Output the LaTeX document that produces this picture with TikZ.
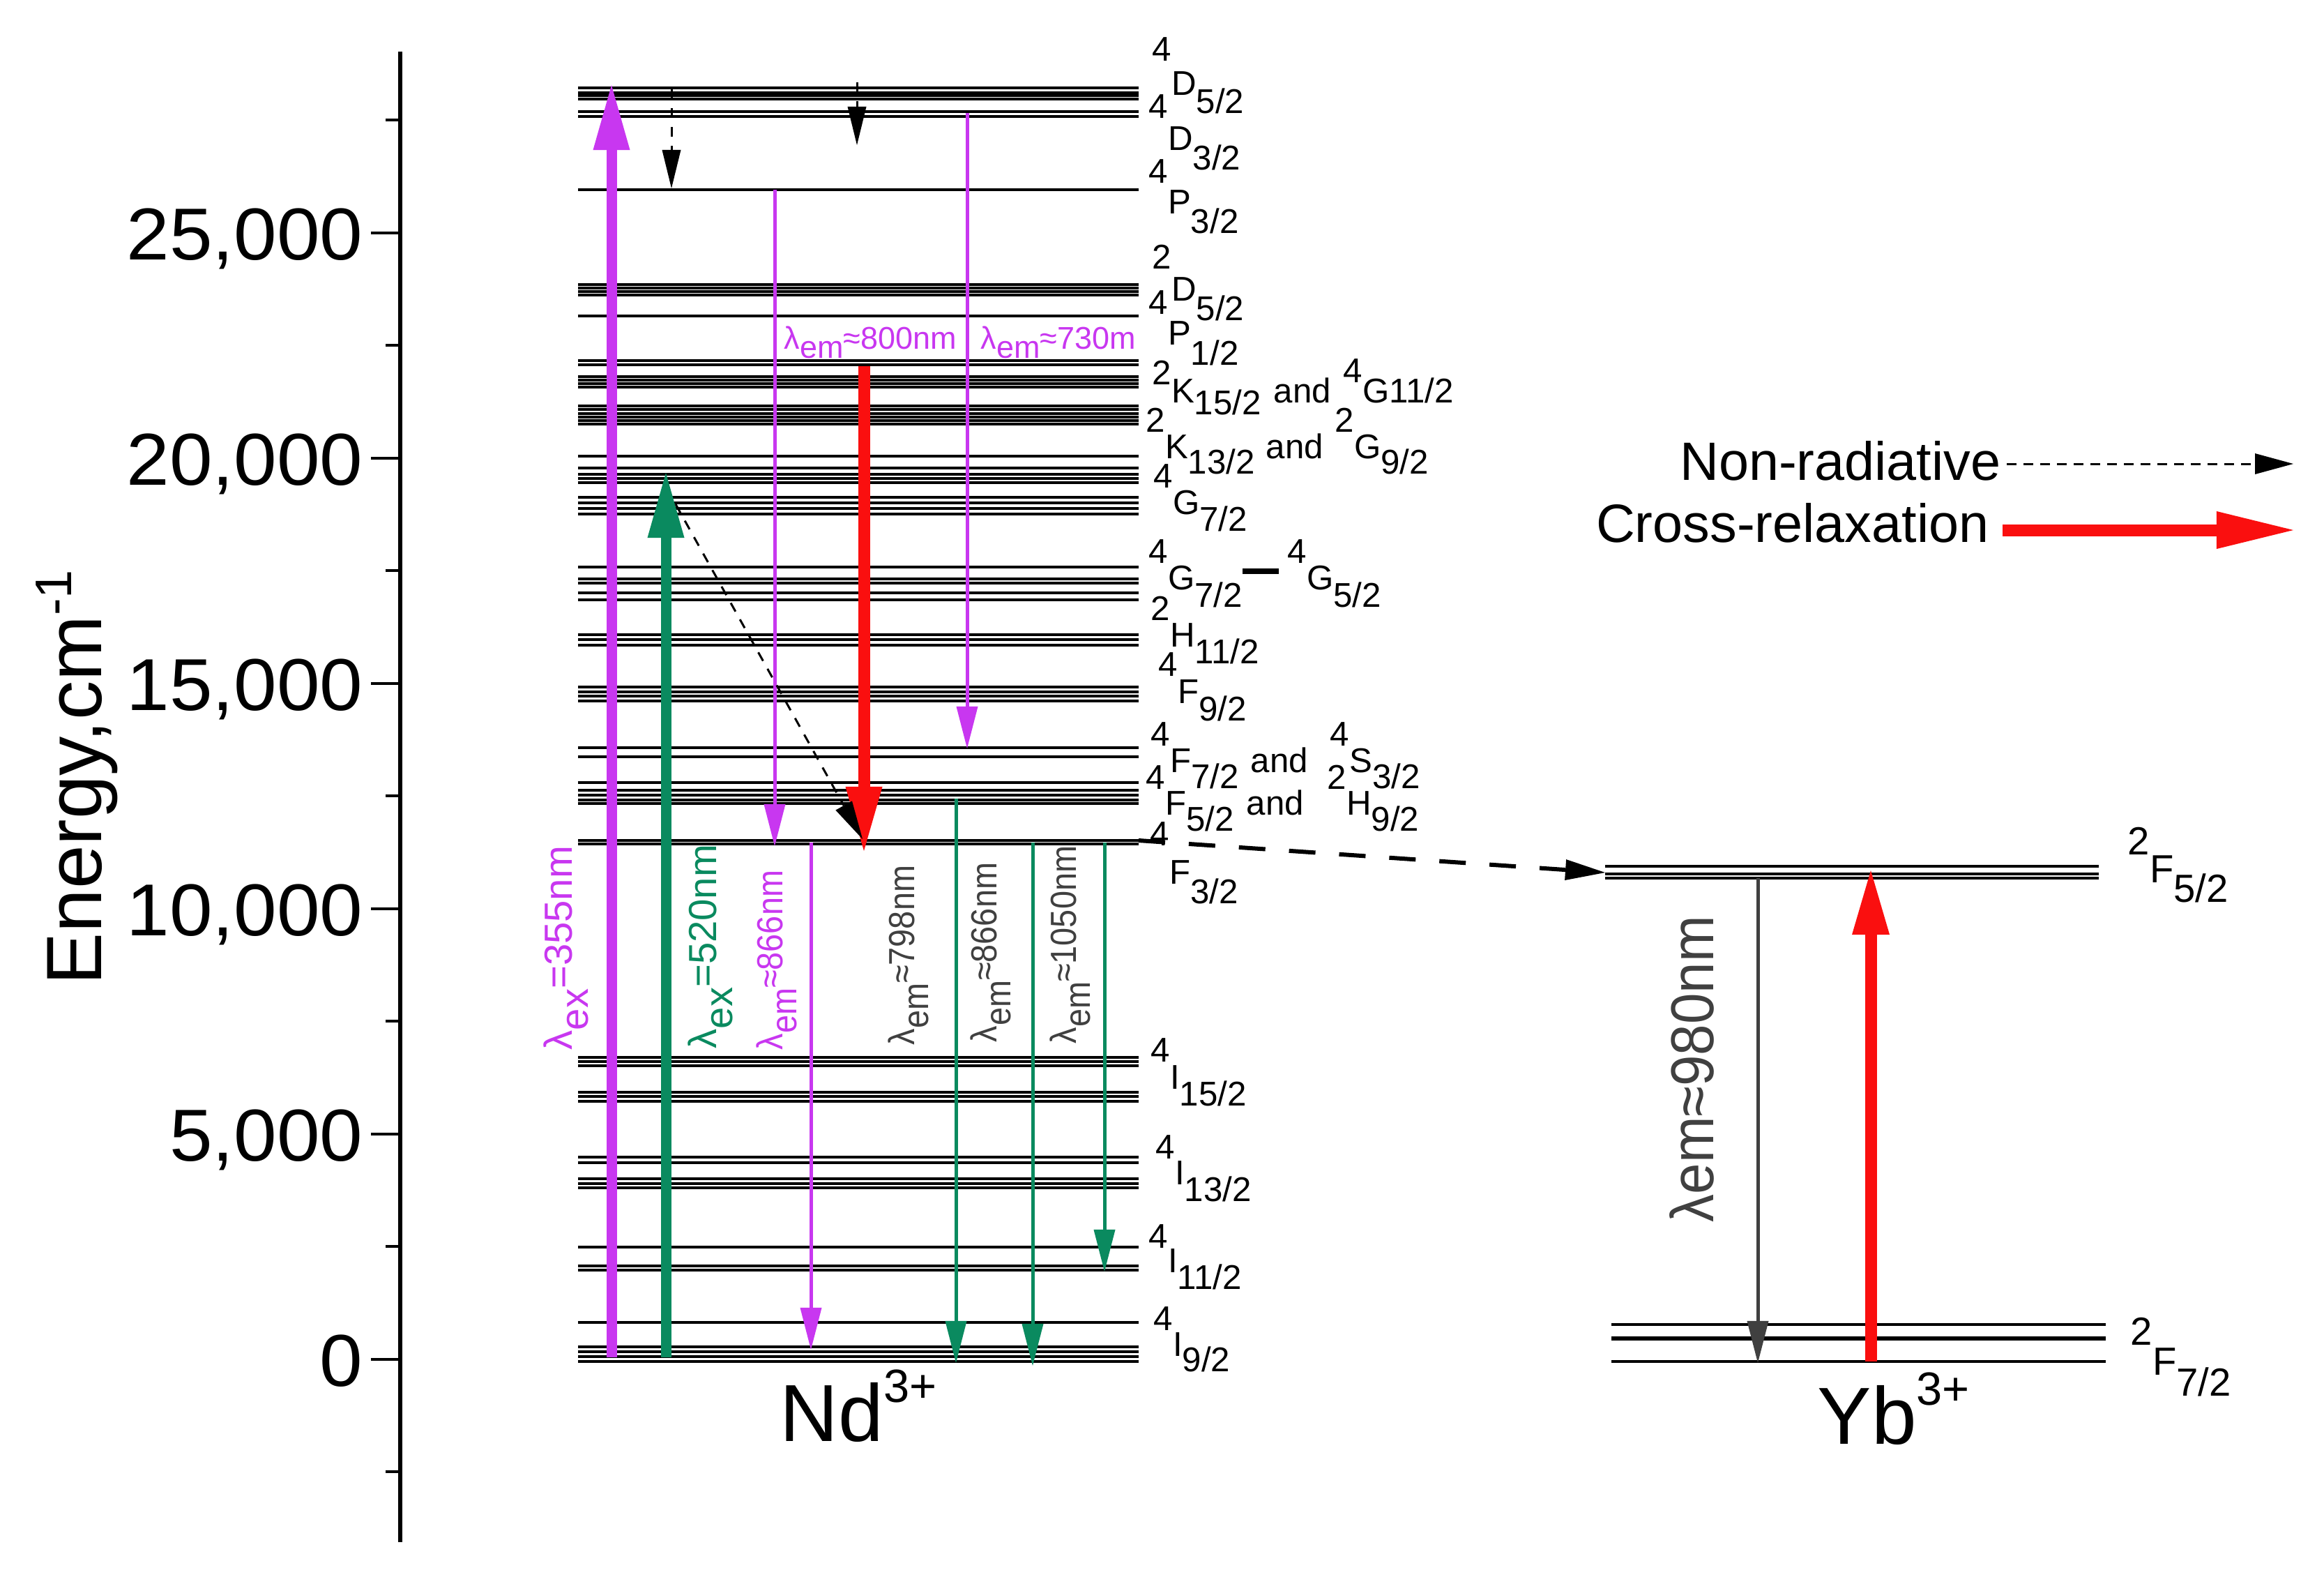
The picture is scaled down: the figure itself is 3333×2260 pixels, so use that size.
\documentclass[tikz,border=0pt]{standalone}
\usepackage{fontspec}
\setmainfont{Liberation Sans}
\usetikzlibrary{arrows.meta}
\definecolor{nprp}{RGB}{200,55,240}
\definecolor{ngrn}{RGB}{10,138,95}
\definecolor{ngry}{RGB}{64,64,64}
\definecolor{nred}{RGB}{250,15,15}
\newcommand{\fs}[1]{\fontsize{#1pt}{#1pt}\selectfont}
\newcommand{\term}[5]{\raisebox{#4}{#1}#2\raisebox{-#5}{#3}}
\begin{document}
\begin{tikzpicture}[x=0.01cm,y=-0.01cm,
 lvl/.style={line width=0.045cm},
 lvlb/.style={line width=0.065cm},
 lab/.style={anchor=base west,inner sep=0pt,font=\fs{14}},
 rlab/.style={anchor=base west,inner sep=0pt,rotate=90},
 ticklab/.style={anchor=base east,inner sep=0pt,font=\fs{30}},
 thickarr/.style={line width=0.15cm,-{Triangle[length=0.93cm,width=0.53cm,line width=0pt]}},
 thinarr/.style={line width=0.05cm,-{Triangle[length=0.6cm,width=0.31cm,line width=0pt]}},
 nrarr/.style={line width=0.03cm,dash pattern=on 0.14cm off 0.13cm,-{Triangle[length=0.55cm,width=0.27cm,line width=0pt]}},
]
\useasboundingbox (0,0) rectangle (3333,2260);

% ---------- axis ----------
\draw[line width=0.06cm] (574,74) -- (574,2211);
\foreach \y in {334,657,980,1303,1626,1949}
  \draw[line width=0.04cm] (532,\y) -- (574,\y);
\foreach \y in {172,495,818,1141,1464,1787,2110}
  \draw[line width=0.04cm] (553,\y) -- (574,\y);
\node[ticklab] (t25) at (521,372) {\scalebox{1.05}[1]{25,000}};
\node[ticklab] (t20) at (521,695) {\scalebox{1.05}[1]{20,000}};
\node[ticklab] (t15) at (521,1018) {\scalebox{1.05}[1]{15,000}};
\node[ticklab] (t10) at (521,1341) {\scalebox{1.05}[1]{10,000}};
\node[ticklab] (t5) at (521,1664) {\scalebox{1.05}[1]{5,000}};
\node[ticklab] (t0) at (521,1987) {\scalebox{1.05}[1]{0}};
\node[rlab,font=\fs{32}] (elab) at (145,1413) {Energy,cm\raisebox{0.42cm}{\fs{21}-1}};

% ---------- Nd levels ----------
\foreach \y in {126,133,137,142,160,167,272,408,413,418,423,453,517,523,540,545,550,555,582,587,593,598,603,608,654,671,680,686,692,713,721,729,737,813,830,836,850,860,910,917,925,985,992,998,1005,1072,1085,1122,1133,1140,1147,1152,1205,1210,1516,1522,1528,1566,1572,1579,1659,1667,1690,1697,1703,1788,1815,1821,1896,1931,1938,1945,1952}
  \draw[lvl] (829,\y) -- (1633,\y);

% ---------- Yb levels ----------
\foreach \y in {1242,1253,1259}
  \draw[lvl] (2302,\y) -- (3010,\y);
\draw[lvl] (2311,1899) -- (3020,1899);
\draw[lvlb] (2311,1919) -- (3020,1919);
\draw[lvl] (2311,1952) -- (3020,1952);

% ---------- Nd level labels ----------
\node[lab] (l1) at (1652,136) {\term{4}{D}{5/2}{0.48cm}{0.26cm}};
\node[lab] (l2) at (1647,215) {\term{4}{D}{3/2}{0.45cm}{0.28cm}};
\node[lab] (l3) at (1647,306) {\term{4}{P}{3/2}{0.43cm}{0.28cm}};
\node[lab] (l4) at (1652,431) {\term{2}{D}{5/2}{0.45cm}{0.28cm}};
\node[lab] (l5) at (1647,494) {\term{4}{P}{1/2}{0.43cm}{0.29cm}};
\node[lab] (l6) at (1652,577) {\term{2}{K}{15/2}{0.25cm}{0.17cm}\hspace{0.18cm}and\hspace{0.18cm}\raisebox{0.28cm}{4}G11/2};
\node[lab] (l7) at (1643,657) {\term{2}{K}{13/2}{0.37cm}{0.22cm}\hspace{0.16cm}and\hspace{0.17cm}\term{2}{G}{9/2}{0.37cm}{0.22cm}};
\node[lab] (l8) at (1654,737) {\term{4}{G}{7/2}{0.37cm}{0.24cm}};
\node[lab] (l9) at (1647,845) {\term{4}{G}{7/2}{0.37cm}{0.25cm}\rule[0.22cm]{0.52cm}{0.08cm}\hspace{0.13cm}\term{4}{G}{5/2}{0.37cm}{0.25cm}};
\node[lab] (l10) at (1650,927) {\term{2}{H}{11/2}{0.37cm}{0.24cm}};
\node[lab] (l11) at (1661,1008) {\term{4}{F}{9/2}{0.38cm}{0.25cm}};
\node[lab] (l12) at (1650,1107) {\term{4}{F}{7/2}{0.37cm}{0.23cm}\hspace{0.17cm}and\hspace{0.32cm}\term{4}{S}{3/2}{0.37cm}{0.23cm}};
\node[lab] (l13) at (1643,1168) {\term{4}{F}{5/2}{0.36cm}{0.23cm}\hspace{0.18cm}and\hspace{0.34cm}\term{2}{H}{9/2}{0.36cm}{0.23cm}};
\node[lab] (l14) at (1649,1267) {\term{4}{F}{3/2}{0.54cm}{0.28cm}};
\node[lab] (l15) at (1650,1561) {\term{4}{I}{15/2}{0.39cm}{0.24cm}};
\node[lab] (l16) at (1657,1698) {\term{4}{I}{13/2}{0.37cm}{0.24cm}};
\node[lab] (l17) at (1647,1824) {\term{4}{I}{11/2}{0.35cm}{0.24cm}};
\node[lab] (l18) at (1654,1944) {\term{4}{I}{9/2}{0.37cm}{0.22cm}};

% ---------- Yb level labels ----------
\node[lab,font=\fs{16}] (y5) at (3051,1265) {\term{2}{F}{5/2}{0.40cm}{0.28cm}};
\node[lab,font=\fs{16}] (y7) at (3055,1971) {\term{2}{F}{7/2}{0.43cm}{0.30cm}};

% ---------- ion labels ----------
\node[anchor=base west,inner sep=0pt,font=\fs{33}] (nd) at (1118,2066) {Nd\raisebox{0.55cm}{\fs{19}3+}};
\node[anchor=base west,inner sep=0pt,font=\fs{33}] (yb) at (2606,2070) {Yb\raisebox{0.55cm}{\fs{19}3+}};

% ---------- arrow end points ----------
\coordinate (p1a) at (877,1946); \coordinate (p1b) at (877,122);
\coordinate (g1a) at (955,1946); \coordinate (g1b) at (955,678);
\coordinate (p2a) at (1111,272); \coordinate (p2b) at (1111,1213);
\coordinate (p3a) at (1387,162); \coordinate (p3b) at (1387,1073);
\coordinate (p4a) at (1163,1208); \coordinate (p4b) at (1163,1935);
\coordinate (r1a) at (1239,525); \coordinate (r1b) at (1239,1220);
\coordinate (g2a) at (1371,1145); \coordinate (g2b) at (1371,1954);
\coordinate (g3a) at (1481,1208); \coordinate (g3b) at (1481,1958);
\coordinate (g4a) at (1584,1208); \coordinate (g4b) at (1584,1823);
\coordinate (d1a) at (969,723); \coordinate (d1b) at (1237,1203);
\coordinate (d2a) at (963,128); \coordinate (d2b) at (963,270);
\coordinate (d3a) at (1229,118); \coordinate (d3b) at (1229,208);
\coordinate (d4a) at (1633,1205); \coordinate (d4b) at (2302,1251);
\coordinate (y1a) at (2521,1259); \coordinate (y1b) at (2521,1954);
\coordinate (y2a) at (2683,1952); \coordinate (y2b) at (2683,1248);

% ---------- Nd transitions ----------
\draw[thickarr,nprp] (p1a) -- (p1b);
\draw[thickarr,ngrn] (g1a) -- (g1b);
\draw[thinarr,nprp] (p2a) -- (p2b);
\draw[thinarr,nprp] (p3a) -- (p3b);
\draw[thinarr,nprp] (p4a) -- (p4b);
\draw[line width=0.17cm,nred,-{Triangle[length=0.92cm,width=0.53cm,line width=0pt]}] (r1a) -- (r1b);
\draw[thinarr,ngrn] (g2a) -- (g2b);
\draw[thinarr,ngrn] (g3a) -- (g3b);
\draw[thinarr,ngrn] (g4a) -- (g4b);
\draw[nrarr] (d1a) -- (d1b);
\draw[nrarr] (d2a) -- (d2b);
\draw[nrarr] (d3a) -- (d3b);
\draw[line width=0.06cm,dash pattern=on 0.38cm off 0.34cm,-{Triangle[length=0.57cm,width=0.30cm,line width=0pt]}] (d4a) -- (d4b);

% ---------- Yb transitions ----------
\draw[thinarr,ngry] (y1a) -- (y1b);
\draw[line width=0.17cm,nred,-{Triangle[length=0.92cm,width=0.54cm,line width=0pt]}] (y2a) -- (y2b);

% ---------- transition labels ----------
\node[rlab,font=\fs{16},nprp] (x355) at (820,1506) {λ\raisebox{-0.23cm}{ex}=355nm};
\node[rlab,font=\fs{16},ngrn] (x520) at (1027,1504) {λ\raisebox{-0.23cm}{ex}=520nm};
\node[rlab,font=\fs{14.8},nprp] (e866p) at (1122,1506) {\scalebox{0.9}[1]{λ\raisebox{-0.2cm}{em}≈866nm}};
\node[rlab,font=\fs{14.8},ngry] (e798) at (1311,1499) {\scalebox{0.9}[1]{λ\raisebox{-0.2cm}{em}≈798nm}};
\node[rlab,font=\fs{14.8},ngry] (e866g) at (1429,1495) {\scalebox{0.9}[1]{λ\raisebox{-0.2cm}{em}≈866nm}};
\node[rlab,font=\fs{14.8},ngry] (e1050) at (1543,1497) {\scalebox{0.9}[1]{λ\raisebox{-0.2cm}{em}≈1050nm}};
\node[rlab,font=\fs{24.7},ngry] (e980) at (2457,1753) {\scalebox{0.92}[1]{λem≈980nm}};
\node[lab,font=\fs{12.8},nprp] (e800) at (1124,500) {λ\raisebox{-0.13cm}{em}≈800nm};
\node[lab,font=\fs{12.8},nprp] (e730) at (1406,500) {λ\raisebox{-0.13cm}{em}≈730m};

% ---------- legend ----------
\node[anchor=base east,inner sep=0pt,font=\fs{22}] (nr) at (2870,688) {Non-radiative};
\node[anchor=base east,inner sep=0pt,font=\fs{22}] (cr) at (2853,777) {Cross-relaxation};
\coordinate (nrs) at (2878,665); \coordinate (nre) at (3289,665);
\coordinate (crs) at (2872,760); \coordinate (cre) at (3289,760);
\draw[line width=0.03cm,dash pattern=on 0.14cm off 0.10cm,-{Triangle[length=0.55cm,width=0.30cm,line width=0pt]}] (nrs) -- (nre);
\draw[line width=0.17cm,nred,-{Triangle[length=1.1cm,width=0.54cm,line width=0pt]}] (crs) -- (cre);
\end{tikzpicture}
\end{document}
